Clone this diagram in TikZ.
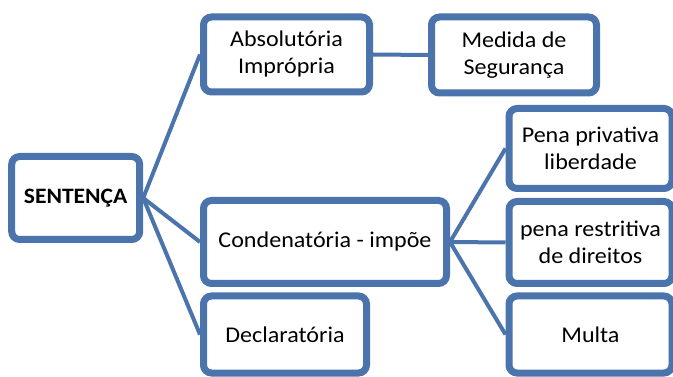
\documentclass[tikz,border=0pt]{standalone}
\usepackage{fontspec}
\setmainfont{Carlito}[FakeStretch=1.07]
\usetikzlibrary{shadows}
\definecolor{frame}{HTML}{4A74AB}
\definecolor{ink}{HTML}{000000}
\tikzset{
  box/.style={draw=frame, fill=white, line width=7pt, rounded corners=8pt,
    align=center, text=ink, inner sep=2pt,
    font=\fontsize{22.5}{27}\selectfont,
    drop shadow={shadow xshift=1.5pt, shadow yshift=-2.5pt, opacity=0.22}},
  boxsize/.style 2 args={minimum width=#1, minimum height=#2},
  link/.style={draw=frame, line width=4pt},
}

\begin{document}
\begin{tikzpicture}[x=1pt, y=-1pt]
  \useasboundingbox (0,0) rectangle (673,377);
  \fill[white] (0,0) rectangle (673,377);
  \clip (0,0) rectangle (673,377);
  % root
  \node[box, boxsize={128pt}{83pt}, font=\fontsize{22}{27}\selectfont\bfseries] (sent) at (75.7,198) {SENTENÇA};
  % middle column
  \node[box, boxsize={166pt}{75pt}] (absol) at (286.5,54.5) {Absolutória\\Imprópria};
  \node[box, boxsize={243pt}{83pt}] (conden) at (325,242) {Condenatória - impõe};
  \node[box, boxsize={163pt}{77pt}] (decl) at (285,334.5) {Declaratória};
  % right column
  \node[box, boxsize={165pt}{76pt}] (medida) at (514,55) {Medida de\\Segurança};
  \node[box, boxsize={163pt}{80pt}] (privat) at (590.5,148.5) {Pena privativa\\liberdade};
  \node[box, boxsize={163pt}{82pt}] (restr) at (590.5,242.5) {pena restritiva\\de direitos};
  \node[box, boxsize={163pt}{77pt}] (multa) at (590.5,334.5) {Multa};
  % connectors
  \foreach \n in {absol,conden,decl}
    \draw[link] (sent.east) -- (\n.west);
  \draw[link] (absol.east) -- (medida.west);
  \foreach \n in {privat,restr,multa}
    \draw[link] (conden.east) -- (\n.west);
\end{tikzpicture}
\end{document}
